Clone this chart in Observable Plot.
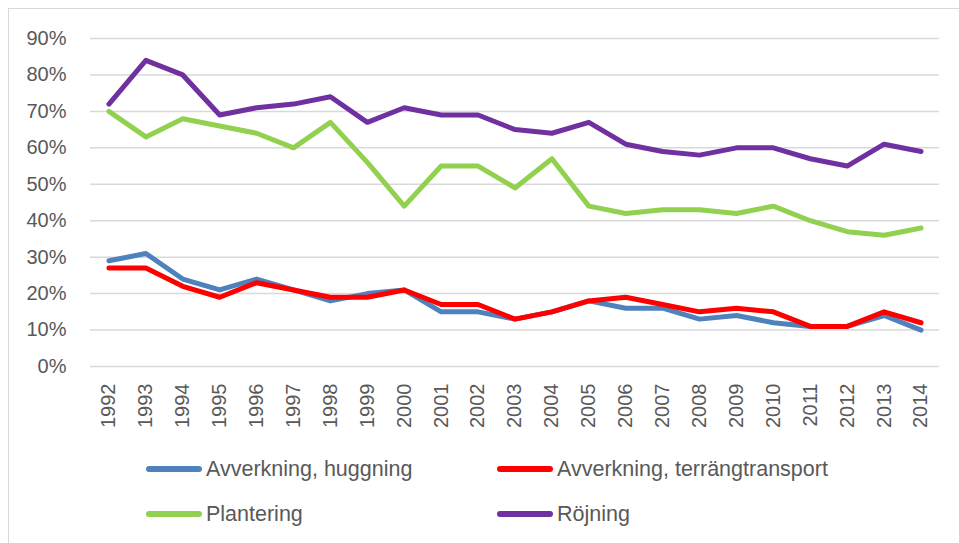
<!DOCTYPE html>
<html>
<head>
<meta charset="utf-8">
<script src="https://cdn.jsdelivr.net/npm/d3@7"></script>
<script src="https://cdn.jsdelivr.net/npm/@observablehq/plot@0.6"></script>
<style>
  html, body { margin: 0; padding: 0; background: #fff; overflow: hidden; }
  body { width: 959px; height: 543px; position: relative; font-family: "Liberation Sans", Arial, sans-serif; }
  #frame { position: absolute; left: 8px; top: 8px; width: 1000px; height: 600px; border: 1.5px solid #d9d9d9; box-sizing: border-box; }
  #chart { position: absolute; left: 0; top: 0; }
  .leg { position: absolute; display: flex; align-items: center; font-size: 21.5px; color: #595959; white-space: nowrap; }
  .leg .sw { width: 56px; height: 6px; border-radius: 3px; margin-right: 4px; }
</style>
</head>
<body>
<div id="frame"></div>
<div id="chart"></div>
<div id="legend"></div>
<script>
const years = ["1992","1993","1994","1995","1996","1997","1998","1999","2000","2001","2002","2003","2004","2005","2006","2007","2008","2009","2010","2011","2012","2013","2014"];
const huggning   = [29,31,24,21,24,21,18,20,21,15,15,13,15,18,16,16,13,14,12,11,11,14,10];
const terrang    = [27,27,22,19,23,21,19,19,21,17,17,13,15,18,19,17,15,16,15,11,11,15,12];
const plantering = [70,63,68,66,64,60,67,56,44,55,55,49,57,44,42,43,43,42,44,40,37,36,38];
const rojning    = [72,84,80,69,71,72,74,67,71,69,69,65,64,67,61,59,58,60,60,57,55,61,59];
const seriesNames = ["Avverkning, huggning", "Avverkning, terrängtransport", "Plantering", "Röjning"];
const seriesColors = ["#4f81bd", "#ff0000", "#92d050", "#7030a0"];
const yTicks = [0, 0.1, 0.2, 0.3, 0.4, 0.5, 0.6, 0.7, 0.8, 0.9];

const seriesValues = [huggning, terrang, plantering, rojning];
const data = [];
seriesValues.forEach((vals, i) => {
  vals.forEach((v, j) => data.push({year: years[j], value: v / 100, series: seriesNames[i]}));
});

const chart = Plot.plot({
  width: 959,
  height: 440,
  marginLeft: 90,
  marginRight: 20,
  marginTop: 38,
  marginBottom: 74,
  style: {fontFamily: "'Liberation Sans', Arial, sans-serif", fontSize: "20px", color: "#595959", background: "transparent"},
  x: {type: "point", domain: years, padding: 0.5, round: false, label: null},
  y: {domain: [0, 0.9], label: null},
  color: {domain: seriesNames, range: seriesColors},
  marks: [
    Plot.ruleY(yTicks, {stroke: "#d9d9d9", strokeWidth: 1.5}),
    Plot.axisY({ticks: yTicks, tickFormat: d3.format(".0%"), tickSize: 0, tickPadding: 24, fontSize: 20, label: null}),
    Plot.axisX({tickRotate: -90, tickSize: 0, tickPadding: 17, fontSize: 20, label: null}),
    Plot.line(data, {x: "year", y: "value", z: "series", stroke: "series", strokeWidth: 5, strokeLinejoin: "round", strokeLinecap: "round"})
  ]
});
document.getElementById("chart").appendChild(chart);

const legend = document.getElementById("legend");
const pos = [[146, 469], [497, 469], [146, 514], [497, 514]];
seriesNames.forEach((name, i) => {
  const d = document.createElement("div");
  d.className = "leg";
  d.style.left = pos[i][0] + "px";
  d.style.top = (pos[i][1] - 14) + "px";
  d.style.height = "28px";
  d.innerHTML = `<div class="sw" style="background:${seriesColors[i]}"></div><span>${name}</span>`;
  legend.appendChild(d);
});
</script>
</body>
</html>
